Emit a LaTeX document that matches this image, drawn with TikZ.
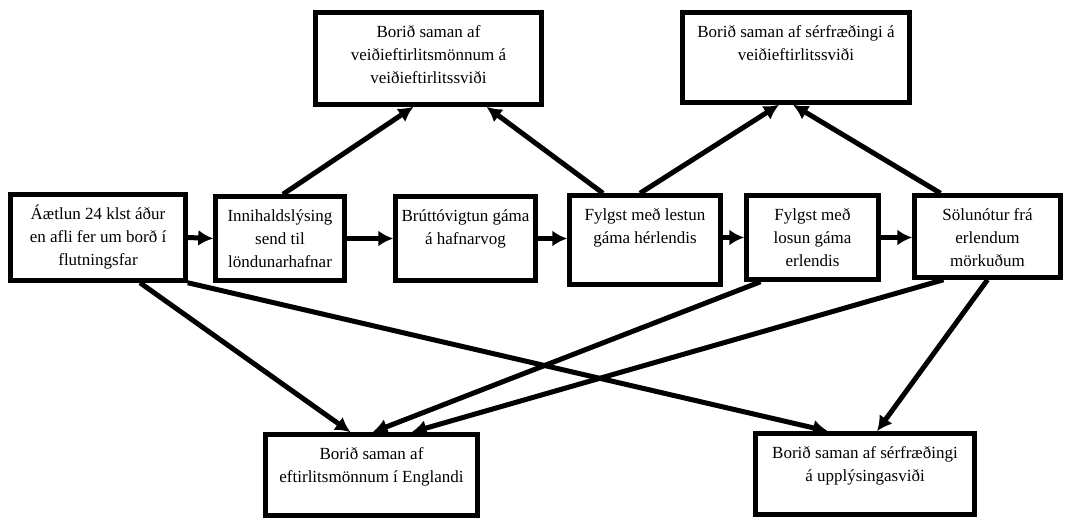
\documentclass[tikz,border=0pt]{standalone}
\usepackage{fontspec}
\setmainfont{Liberation Serif}
\usepackage{tikz}
\usetikzlibrary{arrows.meta,positioning}

% text in a box of fixed size, set from the top
\newcommand{\boxtxt}[3]{\parbox[c][#2][t]{#1}{\centering\rule{0pt}{25pt}#3}}

\begin{document}
\begin{tikzpicture}[x=1pt,y=-1pt,
  box/.style={draw=black,line width=4.5pt,inner sep=0pt,fill=white},
  arr/.style={line width=5pt,-{Latex[length=15pt,width=16pt]}},
  every node/.style={font=\fontsize{17}{23}\selectfont}]
\useasboundingbox (0,0) rectangle (1066,525);
% top row
\node (t1) at (428.5,58.5) [box] {\boxtxt{226pt}{92pt}{Borið saman af\\veiðieftirlitsmönnum á\\veiðieftirlitssviði}};
\node (t2) at (796,57.5) [box] {\boxtxt{227pt}{90pt}{Borið saman af sérfræðingi á\\veiðieftirlitssviði}};
% middle row
\node (m1) at (98,237.5) [box] {\boxtxt{175pt}{86pt}{Áætlun 24 klst áður\\en afli fer um borð í\\flutningsfar}};
\node (m2) at (280,238.5) [box] {\boxtxt{129pt}{84pt}{Innihaldslýsing\\send til\\löndunarhafnar}};
\node (m3) at (465.5,238.5) [box] {\boxtxt{140pt}{84pt}{Brúttóvigtun gáma\\á hafnarvog}};
\node (m4) at (645,240) [box] {\boxtxt{151pt}{89pt}{Fylgst með lestun\\gáma hérlendis}};
\node (m5) at (812.5,237.5) [box] {\boxtxt{132pt}{84pt}{Fylgst með\\losun gáma\\erlendis}};
\node (m6) at (987.5,236.5) [box] {\boxtxt{146pt}{82pt}{Sölunótur frá\\erlendum\\mörkuðum}};
% bottom row
\node (b1) at (371.5,475) [box] {\boxtxt{212pt}{81pt}{Borið saman af\\eftirlitsmönnum í Englandi}};
\node (b2) at (865,474) [box] {\boxtxt{219pt}{81pt}{Borið saman af sérfræðingi\\á upplýsingasviði}};
% chain
\draw[arr] (m1.east) -- (m2.west);
\draw[arr] (m2.east) -- (m3.west);
\draw[arr] (m3.east) -- (m4.west |- m3.east);
\draw[arr] (m4.east |- m5.west) -- (m5.west);
\draw[arr] (m5.east) -- (m6.west |- m5.east);
% up
\draw[arr] ([xshift=3pt]m2.north) -- ([xshift=-15pt]t1.south);
\draw[arr] ([xshift=-42pt]m4.north) -- ([xshift=58pt]t1.south);
\draw[arr] ([xshift=-5pt]m4.north) -- ([xshift=-17pt]t2.south);
\draw[arr] ([xshift=-47pt]m6.north) -- ([xshift=-3pt]t2.south);
% down
\draw[arr] ([xshift=42pt]m1.south) -- ([xshift=-21pt]b1.north);
\draw[arr] (m1.south east) -- ([xshift=-37pt]b2.north);
\draw[arr] ([xshift=-52pt]m5.south) -- ([xshift=1pt]b1.north);
\draw[arr] ([xshift=-44pt]m6.south) -- ([xshift=40pt]b1.north);
\draw[arr] (m6.south) -- ([xshift=12pt]b2.north);
\end{tikzpicture}
\end{document}
